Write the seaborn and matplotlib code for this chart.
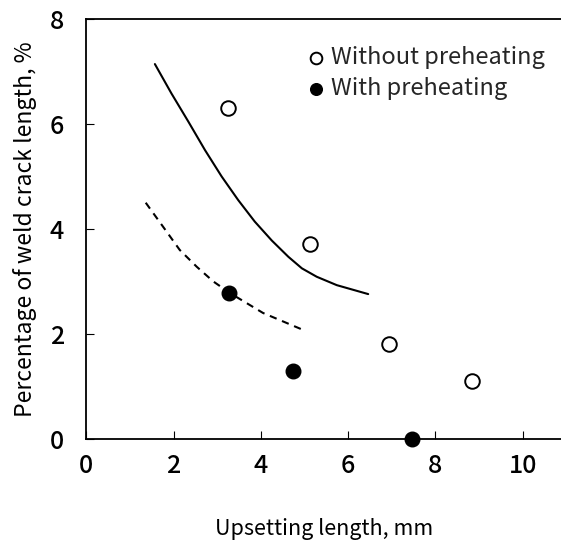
import matplotlib
matplotlib.use("Agg")
import matplotlib.pyplot as plt
import seaborn as sns
import pandas as pd

# Measured points
upset_without = [3.25, 5.13, 6.94, 8.84]
crack_without = [6.30, 3.71, 1.81, 1.10]
upset_with = [3.27, 4.74, 7.46]
crack_with = [2.78, 1.30, 0.0]

# Trend curves
trend_without_x = [1.57, 1.95, 2.34, 2.72, 3.10, 3.48, 3.86, 4.25, 4.63, 4.94, 5.28, 5.74, 6.46]
trend_without_y = [7.14, 6.58, 6.04, 5.50, 5.00, 4.55, 4.14, 3.78, 3.47, 3.25, 3.09, 2.93, 2.76]
trend_with_x = [1.36, 1.76, 2.14, 2.53, 2.91, 3.29, 4.05, 4.96]
trend_with_y = [4.50, 4.04, 3.60, 3.28, 3.00, 2.78, 2.40, 2.08]

x_ticks = [0, 2, 4, 6, 8, 10]
y_ticks = [0, 2, 4, 6, 8]

sns.set_theme(style="white")
plt.rcParams["font.family"] = ["Noto Sans CJK JP", "DejaVu Sans"]

fig = plt.figure(figsize=(5.61, 5.40), dpi=100)
ax = fig.add_axes([0.154, 0.187, 0.846, 0.778])

df_without = pd.DataFrame({"x": trend_without_x, "y": trend_without_y})
df_with = pd.DataFrame({"x": trend_with_x, "y": trend_with_y})
sns.lineplot(data=df_without, x="x", y="y", ax=ax, color="black", lw=1.5, sort=False)
sns.lineplot(data=df_with, x="x", y="y", ax=ax, color="black", lw=1.5,
             linestyle=(0, (3.5, 2.8)), sort=False)

pts_without = pd.DataFrame({"x": upset_without, "y": crack_without})
pts_with = pd.DataFrame({"x": upset_with, "y": crack_with})
sns.scatterplot(data=pts_without, x="x", y="y", ax=ax, s=110, marker="o",
                facecolor="white", edgecolor="black", linewidth=1.4,
                label="Without preheating", zorder=5, clip_on=False)
sns.scatterplot(data=pts_with, x="x", y="y", ax=ax, s=110, marker="o",
                color="black", edgecolor="black", linewidth=1.0,
                label="With preheating", zorder=5, clip_on=False)

ax.set_xlim(0, 10.88)
ax.set_ylim(0, 8)
ax.set_xticks(x_ticks)
ax.set_yticks(y_ticks)
ax.set_xticklabels([str(v) for v in x_ticks])
ax.set_yticklabels([str(v) for v in y_ticks])
ax.tick_params(axis="both", which="major", direction="in", length=6, width=0.8,
               labelsize=18, colors="black", bottom=True, left=True)
for lbl in ax.get_xticklabels() + ax.get_yticklabels():
    lbl.set_fontweight("medium")
ax.tick_params(axis="x", pad=10)
ax.tick_params(axis="y", pad=16)

for side in ["left", "bottom", "top"]:
    ax.spines[side].set_visible(True)
    ax.spines[side].set_color("black")
    ax.spines[side].set_linewidth(1.3)
ax.spines["right"].set_visible(False)

ax.set_xlabel("Upsetting length, mm", fontsize=15.5, labelpad=28, color="black")
ax.set_ylabel("Percentage of weld crack length, %", fontsize=16.5, labelpad=9, color="black")

leg = ax.legend(loc="upper right", bbox_to_anchor=(1.0, 0.975), frameon=False,
                fontsize=17, handlelength=0.8, handletextpad=0.2, labelspacing=0.36,
                markerscale=0.8, borderaxespad=0.3)

fig.savefig("out.png", dpi=100)
